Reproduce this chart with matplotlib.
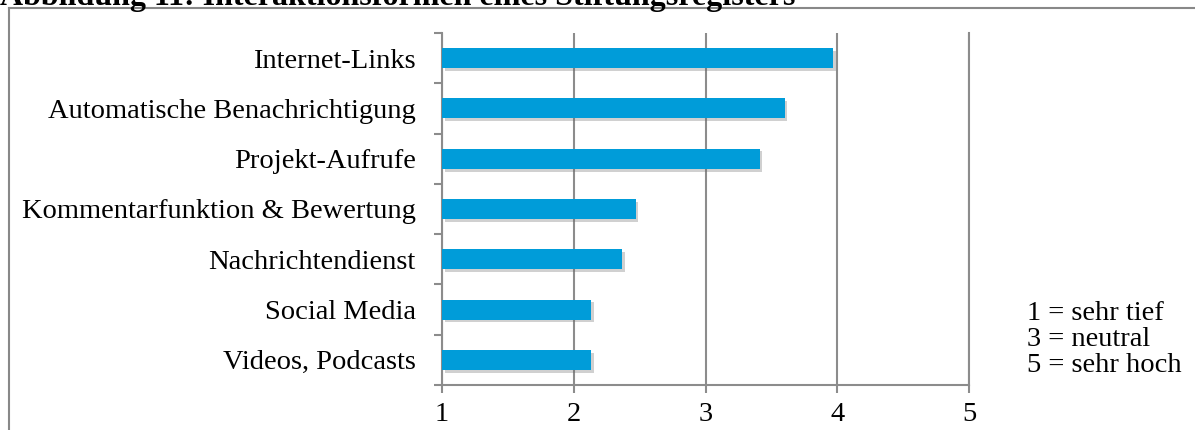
import matplotlib
matplotlib.use("Agg")
import matplotlib.pyplot as plt
import matplotlib.patheffects as pe
from matplotlib.lines import Line2D
import numpy as np

categories = [
    "Internet-Links",
    "Automatische Benachrichtigung",
    "Projekt-Aufrufe",
    "Kommentarfunktion & Bewertung",
    "Nachrichtendienst",
    "Social Media",
    "Videos, Podcasts",
]
scores = [3.97, 3.60, 3.41, 2.47, 2.37, 2.13, 2.13]
x_ticks = [1, 2, 3, 4, 5]
scale_notes = ["1 = sehr tief", "3 = neutral", "5 = sehr hoch"]
title = "Abbildung 11: Interaktionsformen eines Stiftungsregisters"

W, H = 1195, 430
fig = plt.figure(figsize=(W / 100, H / 100), dpi=100)
plt.rcParams["font.family"] = ["Liberation Serif", "DejaVu Serif"]

bar_color = "#009cd9"
grid_color = "#8c8c8c"
fs = 20.5

ax = fig.add_axes([442 / W, 1 - 385 / H, (969 - 442) / W, (385 - 33) / H])

n = len(categories)
ypos = np.arange(n)[::-1]
ax.barh(ypos, [s - 1 for s in scores], left=1, height=0.4, color=bar_color,
        zorder=3,
        path_effects=[pe.SimplePatchShadow(offset=(2, -2), shadow_rgbFace="#666666", alpha=0.3),
                      pe.Normal()])

ax.set_xlim(1, 5)
ax.set_ylim(-0.5, n - 0.5)
ax.set_xticks(x_ticks)
ax.set_xticklabels([str(t) for t in x_ticks], fontsize=fs)
ax.xaxis.grid(True, color=grid_color, linewidth=1.5, zorder=0)

# category boundaries carry the tick marks, labels sit at the centres
ax.set_yticks(np.arange(-0.5, n, 1.0))
ax.set_yticklabels([])
ax.set_yticks(ypos, minor=True)
ax.set_yticklabels(categories, minor=True, fontsize=fs)
ax.tick_params(axis="y", which="minor", length=0, pad=19)
ax.tick_params(axis="y", which="major", length=6, width=1.5, color=grid_color, direction="out")
ax.tick_params(axis="x", length=6, width=1.5, color=grid_color, direction="out", pad=6)

ax.spines["top"].set_visible(False)
for side in ("left", "bottom", "right"):
    ax.spines[side].set_color(grid_color)
    ax.spines[side].set_linewidth(1.5)

for i, note in enumerate(scale_notes):
    fig.text(1027 / W, 1 - (313 + 26.5 * i) / H, note, fontsize=fs, va="center", ha="left")

# frame around the chart area, open to the right and bottom
fig.add_artist(Line2D([9 / W, 1], [1 - 8 / H, 1 - 8 / H], color="#888888", linewidth=1.5))
fig.add_artist(Line2D([9 / W, 9 / W], [0, 1 - 8 / H], color="#888888", linewidth=1.5))

fig.text(0, 1 - 5 / H, title, fontsize=23, fontweight="bold", va="baseline", ha="left")

fig.savefig("out.png", dpi=100, facecolor="white")
